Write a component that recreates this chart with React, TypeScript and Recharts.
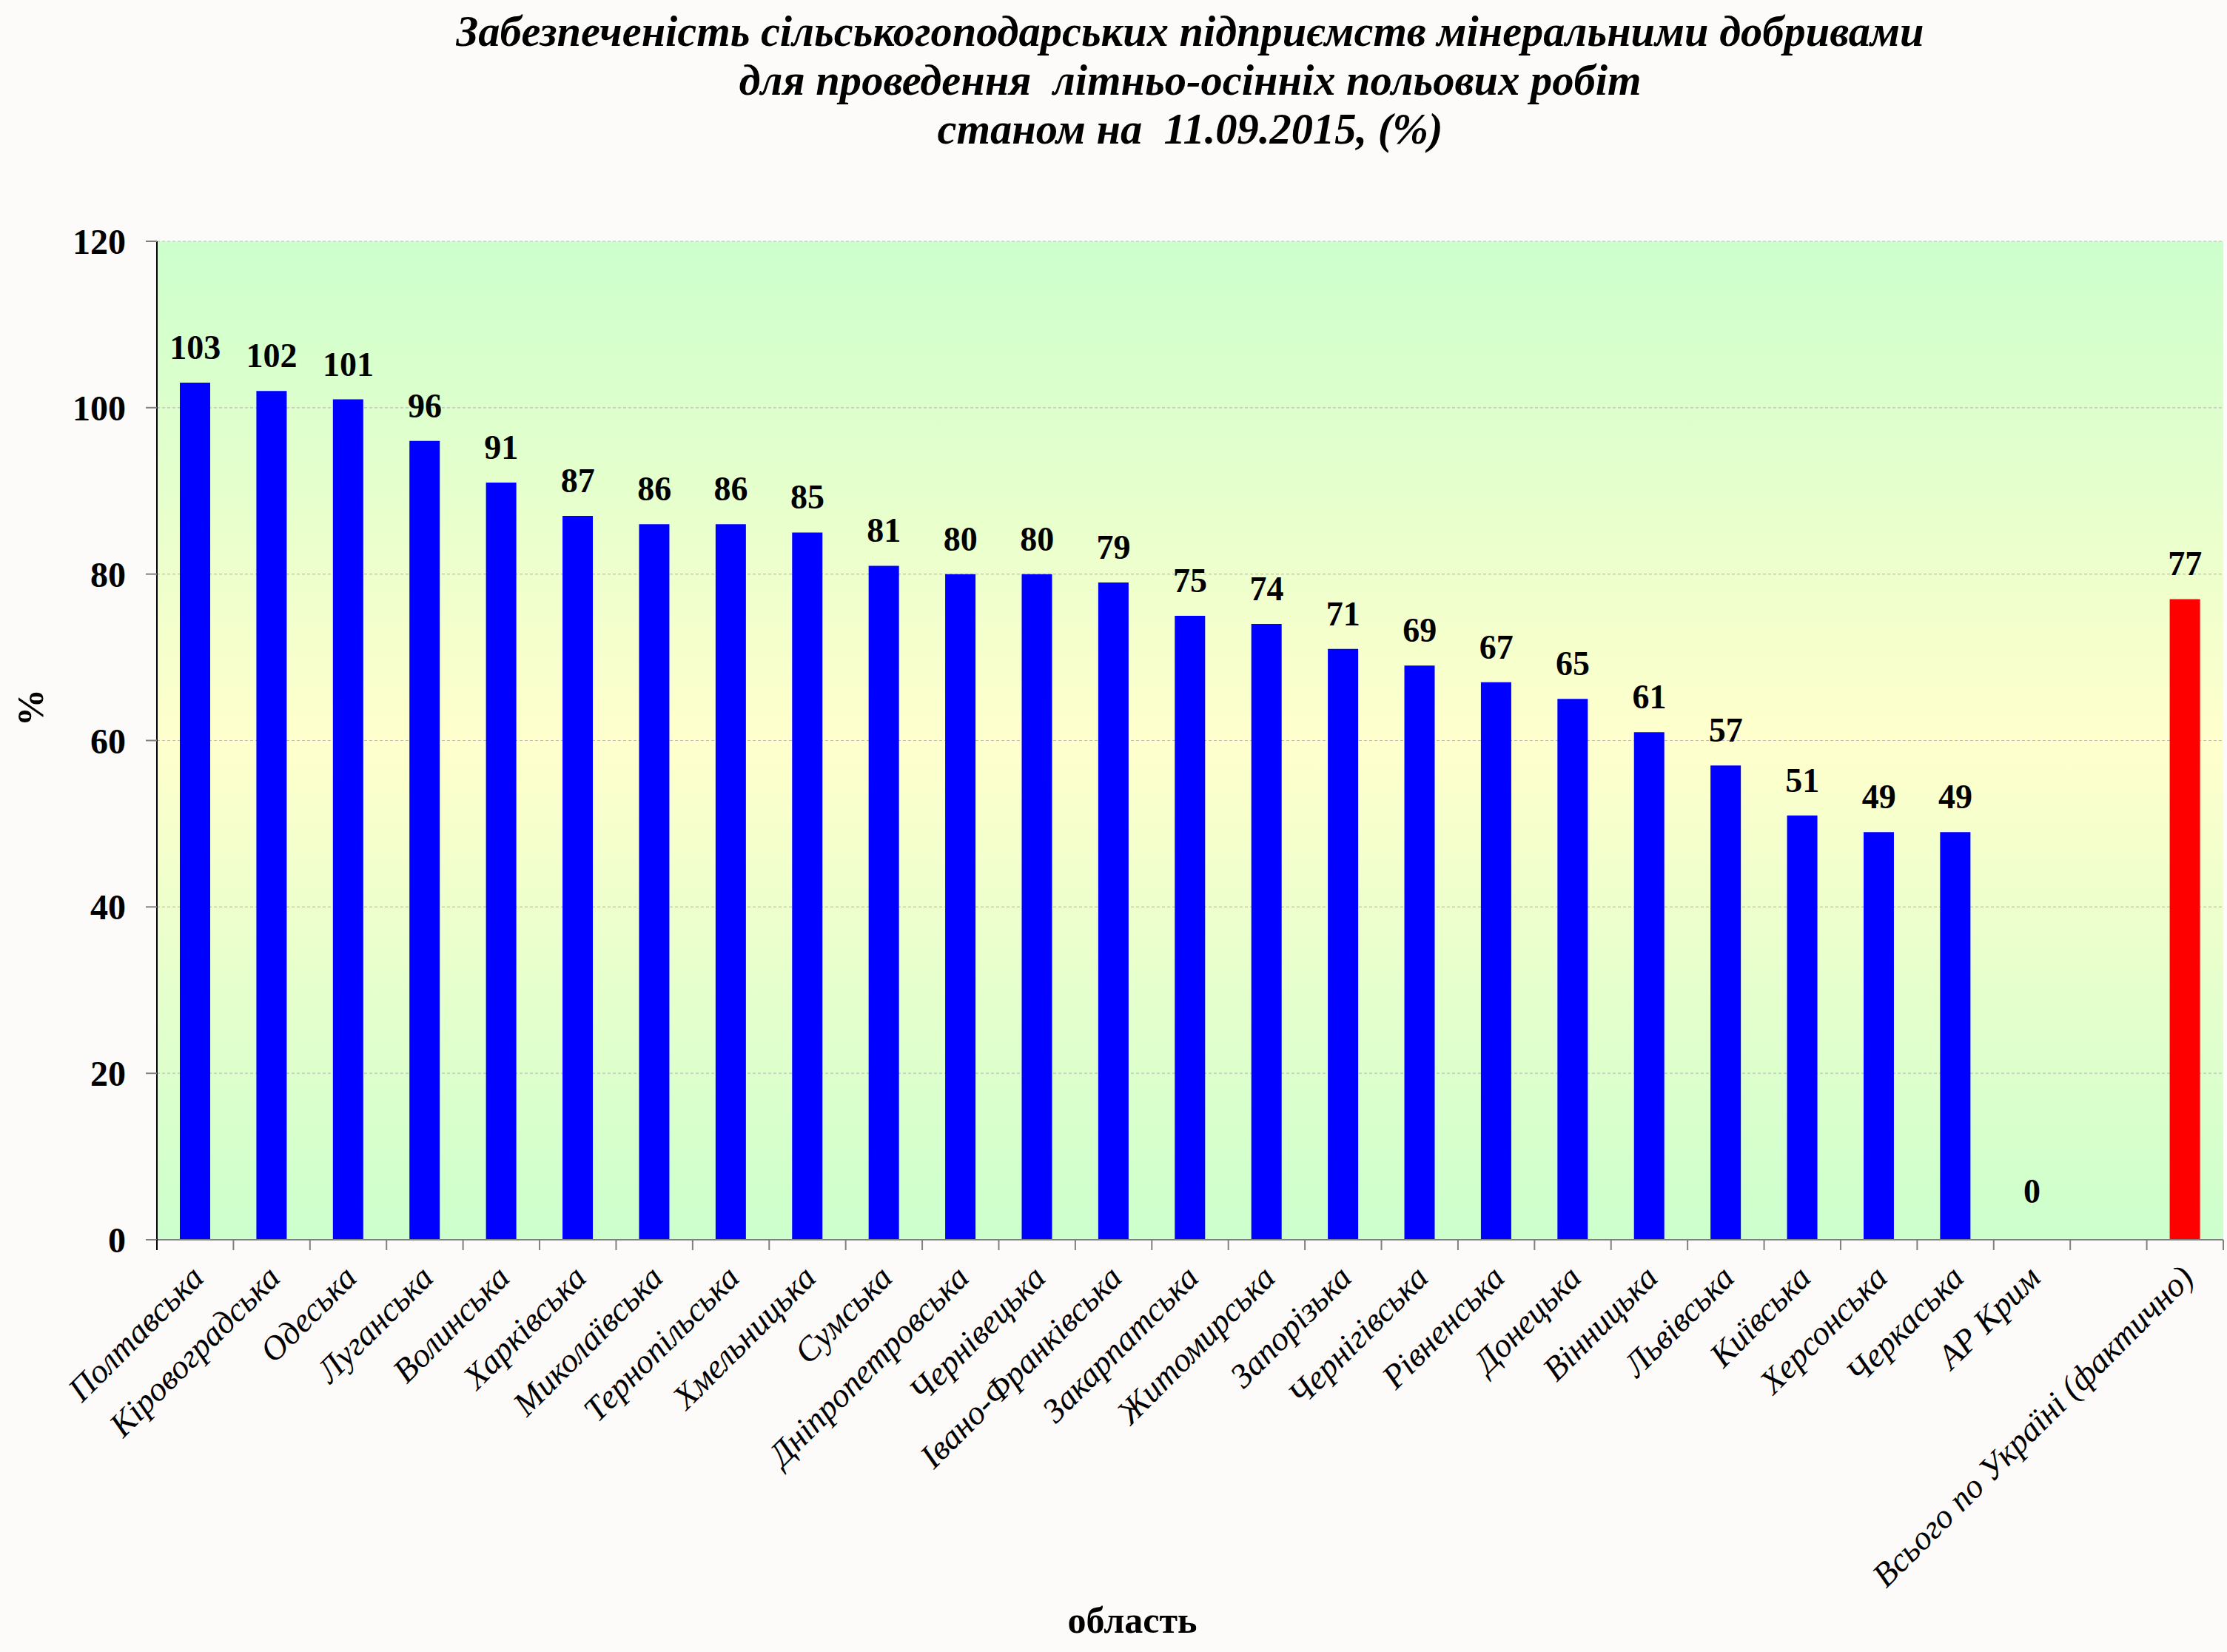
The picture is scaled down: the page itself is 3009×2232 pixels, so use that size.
import { ComposedChart, Bar, Line, XAxis, YAxis, CartesianGrid, Cell, LabelList } from 'recharts';

const regions = [
  'Полтавська', 'Кіровоградська', 'Одеська', 'Луганська', 'Волинська', 'Харківська',
  'Миколаївська', 'Тернопільська', 'Хмельницька', 'Сумська', 'Дніпропетровська',
  'Чернівецька', 'Івано-Франківська', 'Закарпатська', 'Житомирська', 'Запорізька',
  'Чернігівська', 'Рівненська', 'Донецька', 'Вінницька', 'Львівська', 'Київська',
  'Херсонська', 'Черкаська', 'АР Крим', '', 'Всього по Україні (фактично)',
];

const supply = [
  103, 102, 101, 96, 91, 87, 86, 86, 85, 81, 80, 80, 79, 75, 74, 71, 69, 67, 65, 61, 57, 51,
  49, 49, 0, null, 77,
];

const yTicks = [0, 20, 40, 60, 80, 100, 120];

const titleLines = [
  'Забезпеченість сільськогоподарських підприємств мінеральними добривами',
  'для проведення  літньо-осінніх польових робіт',
  'станом на  11.09.2015, (%)',
];

const data = regions.map((name, i) => ({ name, value: supply[i] }));

const W = 3009;
const H = 2232;
const PLOT_LEFT = 212;
const PLOT_RIGHT = 3004;
const PLOT_TOP = 326;
const PLOT_BOTTOM = 1675;
const SLOT = (PLOT_RIGHT - PLOT_LEFT) / regions.length;
const FONT = '"Liberation Serif", "Times New Roman", serif';

function CategoryTick(props: any) {
  const { x, payload, index } = props;
  const right = x + SLOT / 2;
  return (
    <g>
      {index === 0 && (
        <line x1={x - SLOT / 2} y1={PLOT_BOTTOM} x2={x - SLOT / 2} y2={PLOT_BOTTOM + 14} stroke="#000" strokeWidth={2} />
      )}
      <line x1={right} y1={PLOT_BOTTOM} x2={right} y2={PLOT_BOTTOM + 14} stroke="#808080" strokeWidth={2} />
      <text
        transform={`translate(${x + 14},${PLOT_BOTTOM + 54}) rotate(-45)`}
        textAnchor="end"
        fontFamily={FONT}
        fontStyle="italic"
        fontSize={46}
        fill="#000"
      >
        {payload.value}
      </text>
    </g>
  );
}

// labels hang off an invisible line so the zero value still gets one
function ValueLabel(props: any) {
  const { x, y, value } = props;
  if (value === null || value === undefined || x == null || y == null) return null;
  return (
    <text
      x={x}
      y={y - (value === 0 ? 50 : 32)}
      textAnchor="middle"
      fontFamily={FONT}
      fontWeight="bold"
      fontSize={46}
      fill="#000"
    >
      {value}
    </text>
  );
}

export default function App() {
  return (
    <div style={{ position: 'fixed', left: 0, top: 0, width: W, height: H, background: '#fcfbfa' }}>
      <ComposedChart
        width={W}
        height={H}
        data={data}
        margin={{ top: PLOT_TOP, right: W - PLOT_RIGHT, bottom: 0, left: 0 }}
      >
        <defs>
          <linearGradient id="plotBg" x1="0" y1="0" x2="0" y2="1">
            <stop offset="0%" stopColor="#ccffcc" />
            <stop offset="50%" stopColor="#ffffcc" />
            <stop offset="100%" stopColor="#ccffcc" />
          </linearGradient>
        </defs>
        <CartesianGrid
          vertical={false}
          fill="url(#plotBg)"
          fillOpacity={1}
          stroke="#bdbdbd"
          strokeDasharray="4 3"
          strokeWidth={1.2}
        />
        <XAxis
          dataKey="name"
          type="category"
          interval={0}
          height={H - PLOT_BOTTOM}
          axisLine={{ stroke: '#808080', strokeWidth: 2 }}
          tickLine={false}
          tick={<CategoryTick />}
        />
        <YAxis
          width={PLOT_LEFT}
          domain={[0, 120]}
          ticks={yTicks}
          interval={0}
          axisLine={{ stroke: '#000', strokeWidth: 2 }}
          tickLine={{ stroke: '#808080', strokeWidth: 2 }}
          tickSize={15}
          tickMargin={27}
          tick={{ fontFamily: FONT, fontWeight: 'bold', fontSize: 48, fill: '#000' }}
        />
        <Bar dataKey="value" barSize={41} isAnimationActive={false}>
          {data.map((d, i) => (
            <Cell key={i} fill={i === data.length - 1 ? '#ff0000' : '#0000ff'} />
          ))}
        </Bar>
        <Line
          dataKey="value"
          stroke="none"
          dot={false}
          activeDot={false}
          legendType="none"
          isAnimationActive={false}
        >
          <LabelList dataKey="value" content={<ValueLabel />} />
        </Line>
      </ComposedChart>
      <svg width={W} height={H} style={{ position: 'absolute', left: 0, top: 0, pointerEvents: 'none' }}>
        {titleLines.map((line, i) => (
          <text
            key={i}
            x={1608}
            y={62 + i * 66}
            textAnchor="middle"
            fontFamily={FONT}
            fontWeight="bold"
            fontStyle="italic"
            fontSize={60}
            textLength={[1983, 1219, 683][i]}
            lengthAdjust="spacingAndGlyphs"
            style={{ whiteSpace: 'pre' }}
            fill="#000"
          >
            {line}
          </text>
        ))}
        <text
          transform="translate(58,956) rotate(-90)"
          textAnchor="middle"
          fontFamily={FONT}
          fontWeight="bold"
          fontSize={50}
          fill="#000"
        >
          %
        </text>
        <text x={1530} y={2206} textAnchor="middle" fontFamily={FONT} fontWeight="bold" fontSize={50} fill="#000">
          область
        </text>
      </svg>
    </div>
  );
}
